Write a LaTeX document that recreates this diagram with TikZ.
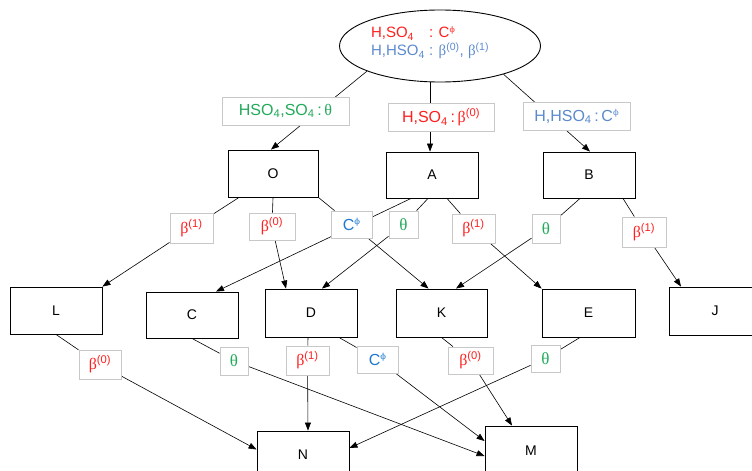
\documentclass[tikz,border=0pt]{standalone}
\usepackage{fontspec}
\usepackage{graphicx}
\setmainfont{Liberation Sans}
\newfontfamily\grfont{Liberation Serif}
\newfontfamily\phifont{DejaVu Serif}
\usetikzlibrary{shapes.geometric,arrows.meta,backgrounds}
\definecolor{cred}{HTML}{FF1F1F}
\definecolor{cgreen}{HTML}{22AA5A}
\definecolor{csoft}{HTML}{5B8ACF}
\definecolor{cblue}{HTML}{1E78D0}
\definecolor{labgray}{HTML}{C8C8C8}
\newcommand\gB{{\grfont β}}
\newcommand\bzero{\gB\textsuperscript{(0)}}
\newcommand\bone{\gB\textsuperscript{(1)}}
\newcommand\cphi{C\raisebox{0.36em}{\scalebox{0.52}{\phifont ϕ}}}
\newcommand\thet{{\grfont\fontsize{17}{18}\selectfont θ}}
\tikzset{
  box/.style={draw, line width=0.9pt, minimum width=92pt, minimum height=47pt, inner sep=0pt, font=\fontsize{14}{16}\selectfont},
  lab/.style={draw=labgray, line width=0.9pt, fill=white, inner sep=0pt, font=\fontsize{16}{18}\selectfont},
  arr/.style={-{Triangle[length=8pt,width=6pt]}, line width=0.6pt},
  ln/.style={line width=0.6pt}
}
\begin{document}
\begin{tikzpicture}[x=1pt,y=1pt]
\useasboundingbox (0,0) rectangle (752,-471);
\clip (0,0) rectangle (752,-471);
% top ellipse
\node[ellipse, draw, line width=0.9pt, minimum width=201pt, minimum height=72pt, inner sep=0pt] (top) at (440,-46) {};
\node[inner sep=0pt, font=\fontsize{15}{17}\selectfont] (toptext) at (430,-43.5) {%
  \begin{tabular}{@{}l@{\ }l@{}}
  \textcolor{cred}{H,SO\textsubscript{4}} & \textcolor{cred}{: \cphi}\\
  \textcolor{csoft}{H,HSO\textsubscript{4}} & \textcolor{csoft}{: \bzero, \bone}
  \end{tabular}};
% top labels
\node[lab, text=cgreen, minimum width=127pt, minimum height=28pt] (T1) at (285.5,-111) {HSO\textsubscript{4},SO\textsubscript{4}\,:\,{\grfont θ}\hspace{16pt}};
\node[lab, text=cred, minimum width=106pt, minimum height=28pt] (T2) at (441,-117) {H,SO\textsubscript{4}\,:\,\bzero};
\node[lab, text=csoft, minimum width=107pt, minimum height=28pt] (T3) at (576.5,-116.5) {H,HSO\textsubscript{4}\,:\,\cphi};
% second row
\node[box, minimum width=90pt] (O) at (273,-173.5) {O};
\node[box, minimum height=46pt] (A) at (432,-175) {A};
\node[box, minimum height=46pt] (B) at (589,-175) {B};
% third row
\node[box] (L) at (56,-310.5) {L};
\node[box, minimum height=46pt] (C) at (192,-315) {C};
\node[box, minimum height=48pt] (D) at (311,-313) {D};
\node[box, minimum width=91pt, minimum height=48pt] (K) at (441.5,-313) {K};
\node[box, minimum width=93pt, minimum height=48pt] (E) at (588.5,-313) {E};
\node[box, minimum height=48pt] (J) at (715,-311) {J};
% bottom row
\node[box] (N) at (303,-454.5) {N};
\node[box, minimum height=50pt] (M) at (531,-451) {M};
% middle labels
\node[lab, text=cred, minimum width=43pt, minimum height=30pt] (L1) at (191.5,-228) {\bone};
\node[lab, text=cred, minimum width=46pt, minimum height=27pt] (L2) at (272,-226.5) {\bzero};
\node[lab, text=cblue, minimum width=41pt, minimum height=27pt] (L3) at (351.5,-224.5) {\cphi};
\node[lab, text=cgreen, minimum width=29pt, minimum height=27pt] (L4) at (403.5,-224.5) {\thet};
\node[lab, text=cred, minimum width=43pt, minimum height=29pt] (L5) at (473.5,-228.5) {\bone};
\node[lab, text=cgreen, minimum width=28pt, minimum height=29pt] (L6) at (546,-228.5) {\thet};
\node[lab, text=cred, minimum width=44pt, minimum height=30pt] (L7) at (644,-232) {\bone};
% bottom labels
\node[lab, text=cred, minimum width=42pt, minimum height=29pt] (B1) at (100,-364.5) {\bzero};
\node[lab, text=cgreen, minimum width=28pt, minimum height=28pt] (B2) at (234,-361) {\thet};
\node[lab, text=cred, minimum width=43pt, minimum height=29pt] (B3) at (307.5,-360.5) {\bone};
\node[lab, text=cblue, minimum width=41pt, minimum height=27pt] (B4) at (377.5,-359.5) {\cphi};
\node[lab, text=cred, minimum width=45pt, minimum height=27pt] (B5) at (470.5,-360.5) {\bzero};
\node[lab, text=cgreen, minimum width=29pt, minimum height=27pt] (B6) at (545.5,-358.5) {\thet};
\begin{pgfonlayer}{background}
% ellipse to second row
\draw[arr] (top.199) -- ([xshift=-2pt]O.north);
\draw[arr] ([xshift=-10pt]top.south) -- ([xshift=-2pt]A.north);
\draw[arr] (top.336) -- ([xshift=1pt]B.north);
% second to third row
\draw[ln] ([xshift=-34pt]O.south) -- (L1);
\draw[arr] (L1) -- (L.north east);
\draw[ln] (O.south) -- (L2);
\draw[arr] (L2) -- ([xshift=-25pt]D.north);
\draw[ln] (O.south east) -- (L3);
\draw[arr] (L3) -- ([xshift=-13pt]K.north);
\draw[arr] ([xshift=-21pt]A.south) -- ([xshift=24pt]C.north);
\draw[ln] ([xshift=-4pt]A.south) -- (L4);
\draw[arr] (L4) -- ([xshift=11pt]D.north);
\draw[ln] ([xshift=15pt]A.south) -- (L5);
\draw[arr] (L5) -- (E.north west);
\draw[ln] ([xshift=-9pt]B.south) -- (L6);
\draw[arr] (L6) -- ([xshift=14.5pt]K.north);
\draw[ln] ([xshift=34pt]B.south) -- (L7);
\draw[arr] (L7) -- ([xshift=-34pt]J.north);
% third to bottom row
\draw[ln] (L.south) -- (B1);
\draw[arr] (B1) -- ([yshift=5pt]N.west);
\draw[ln] (C.south) -- (B2);
\draw[arr] (B2) -- ([yshift=-5pt]M.west);
\draw[ln] ([xshift=-3pt]D.south) -- (B3);
\draw[arr] (B3) -- ([xshift=5pt]N.north);
\draw[ln] ([xshift=28pt]D.south) -- (B4);
\draw[arr] (B4) -- ([yshift=10pt]M.west);
\draw[ln] (K.south) -- (B5);
\draw[arr] (B5) -- ([xshift=-19pt]M.north);
\draw[ln] ([xshift=-8.5pt]E.south) -- (B6);
\draw[arr] (B6) -- ([yshift=6.5pt]N.east);
\end{pgfonlayer}
\end{tikzpicture}
\end{document}
